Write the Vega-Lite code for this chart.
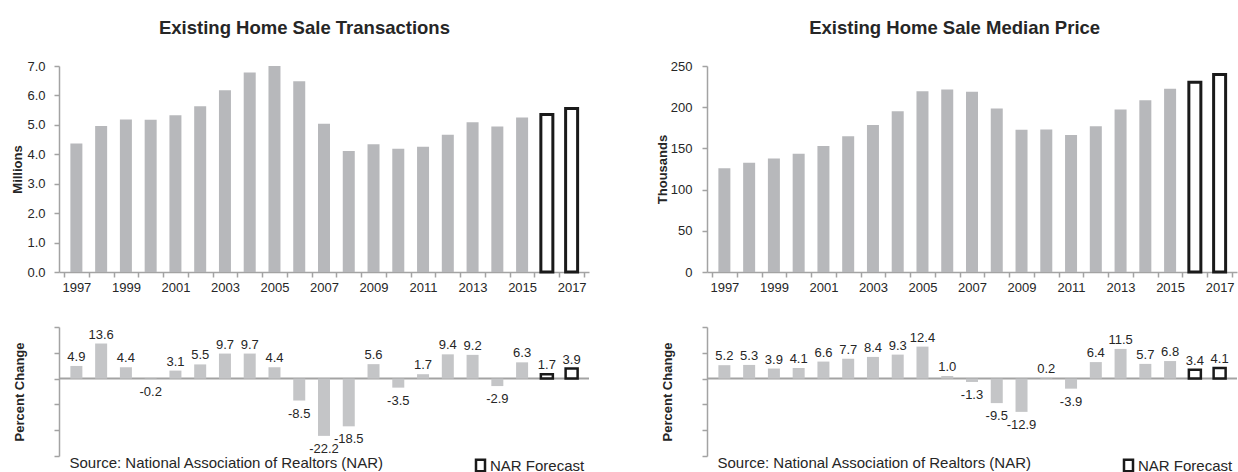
{
  "$schema": "https://vega.github.io/schema/vega-lite/v6.json",
  "padding": {"left": 11, "top": 18, "right": 0, "bottom": 0},
  "autosize": {"type": "pad"},
  "background": "white",
  "config": {
    "locale": {"number": {"decimal": ".", "thousands": ",", "grouping": [3], "currency": ["$", ""], "minus": "-"}},
    "view": {"stroke": null},
    "font": "Liberation Sans",
    "axis": {
      "domainColor": "#a3a3a3", "tickColor": "#a3a3a3", "domainWidth": 1.5, "tickWidth": 1.5,
      "labelColor": "#262626", "titleColor": "#262626", "labelFontSize": 13, "titleFontSize": 13,
      "titleFontWeight": "bold", "grid": false, "tickSize": 5
    },
    "title": {"fontSize": 18.5, "fontWeight": "bold", "color": "#262626", "frame": "bounds", "anchor": "middle"}
  },
  "datasets": {
    "sales": [
      {"year": 1997, "units": 4.37, "pct": 4.9, "kind": "Actual"},
      {"year": 1998, "units": 4.96, "pct": 13.6, "kind": "Actual"},
      {"year": 1999, "units": 5.18, "pct": 4.4, "kind": "Actual"},
      {"year": 2000, "units": 5.17, "pct": -0.2, "kind": "Actual"},
      {"year": 2001, "units": 5.33, "pct": 3.1, "kind": "Actual"},
      {"year": 2002, "units": 5.63, "pct": 5.5, "kind": "Actual"},
      {"year": 2003, "units": 6.18, "pct": 9.7, "kind": "Actual"},
      {"year": 2004, "units": 6.78, "pct": 9.7, "kind": "Actual"},
      {"year": 2005, "units": 7.0, "pct": 4.4, "kind": "Actual"},
      {"year": 2006, "units": 6.48, "pct": -8.5, "kind": "Actual"},
      {"year": 2007, "units": 5.04, "pct": -22.2, "kind": "Actual"},
      {"year": 2008, "units": 4.11, "pct": -18.5, "kind": "Actual"},
      {"year": 2009, "units": 4.34, "pct": 5.6, "kind": "Actual"},
      {"year": 2010, "units": 4.19, "pct": -3.5, "kind": "Actual"},
      {"year": 2011, "units": 4.26, "pct": 1.7, "kind": "Actual"},
      {"year": 2012, "units": 4.66, "pct": 9.4, "kind": "Actual"},
      {"year": 2013, "units": 5.09, "pct": 9.2, "kind": "Actual"},
      {"year": 2014, "units": 4.94, "pct": -2.9, "kind": "Actual"},
      {"year": 2015, "units": 5.25, "pct": 6.3, "kind": "Actual"},
      {"year": 2016, "units": 5.35, "pct": 1.7, "kind": "NAR Forecast"},
      {"year": 2017, "units": 5.56, "pct": 3.9, "kind": "NAR Forecast"}
    ],
    "price": [
      {"year": 1997, "price": 125.8, "pct": 5.2, "kind": "Actual"},
      {"year": 1998, "price": 132.5, "pct": 5.3, "kind": "Actual"},
      {"year": 1999, "price": 137.7, "pct": 3.9, "kind": "Actual"},
      {"year": 2000, "price": 143.5, "pct": 4.1, "kind": "Actual"},
      {"year": 2001, "price": 152.8, "pct": 6.6, "kind": "Actual"},
      {"year": 2002, "price": 164.6, "pct": 7.7, "kind": "Actual"},
      {"year": 2003, "price": 178.5, "pct": 8.4, "kind": "Actual"},
      {"year": 2004, "price": 195.1, "pct": 9.3, "kind": "Actual"},
      {"year": 2005, "price": 219.3, "pct": 12.4, "kind": "Actual"},
      {"year": 2006, "price": 221.5, "pct": 1.0, "kind": "Actual"},
      {"year": 2007, "price": 218.6, "pct": -1.3, "kind": "Actual"},
      {"year": 2008, "price": 198.3, "pct": -9.5, "kind": "Actual"},
      {"year": 2009, "price": 172.5, "pct": -12.9, "kind": "Actual"},
      {"year": 2010, "price": 172.9, "pct": 0.2, "kind": "Actual"},
      {"year": 2011, "price": 166.2, "pct": -3.9, "kind": "Actual"},
      {"year": 2012, "price": 176.8, "pct": 6.4, "kind": "Actual"},
      {"year": 2013, "price": 197.1, "pct": 11.5, "kind": "Actual"},
      {"year": 2014, "price": 208.3, "pct": 5.7, "kind": "Actual"},
      {"year": 2015, "price": 222.5, "pct": 6.8, "kind": "Actual"},
      {"year": 2016, "price": 230.3, "pct": 3.4, "kind": "NAR Forecast"},
      {"year": 2017, "price": 239.6, "pct": 4.1, "kind": "NAR Forecast"}
    ]
  },
  "spacing": 66,
  "resolve": {
    "scale": {"x": "independent", "y": "independent", "fill": "independent", "stroke": "independent"},
    "legend": {"fill": "independent", "stroke": "independent"}
  },
  "hconcat": [
    {
      "spacing": 32,
      "resolve": {
        "scale": {"x": "independent", "y": "independent", "fill": "independent", "stroke": "independent"},
        "legend": {"fill": "independent", "stroke": "independent"}
      },
      "vconcat": [
        {
          "width": 530, "height": 206,
          "title": {"text": "Existing Home Sale Transactions", "offset": 23, "dx": 4},
          "data": {"name": "sales"},
          "mark": {"type": "bar", "orient": "vertical", "size": 12, "strokeWidth": 3},
          "encoding": {
            "x": {"field": "year", "type": "quantitative",
              "scale": {"domain": [1996.5, 2017.5], "nice": false, "zero": false},
              "axis": {"title": null,
                "values": [1996.5, 1997, 1997.5, 1998.5, 1999, 1999.5, 2000.5, 2001, 2001.5, 2002.5, 2003, 2003.5, 2004.5, 2005, 2005.5, 2006.5, 2007, 2007.5, 2008.5, 2009, 2009.5, 2010.5, 2011, 2011.5, 2012.5, 2013, 2013.5, 2014.5, 2015, 2015.5, 2016.5, 2017, 2017.5],
                "labelExpr": "datum.value % 2 === 1 ? '' + datum.value : ''",
                "tickOpacity": {"condition": {"test": "datum.value % 1 === 0", "value": 0}, "value": 1},
                "labelOverlap": false, "labelFlush": false, "labelBound": false, "labelPadding": 4}},
            "y": {"field": "units", "type": "quantitative",
              "scale": {"domain": [0, 7], "nice": false},
              "axis": {"title": "Millions", "values": [0, 1, 2, 3, 4, 5, 6, 7], "format": ".1f", "labelPadding": 9, "titlePadding": 2}},
            "fill": {"field": "kind", "type": "nominal", "scale": {"domain": ["Actual", "NAR Forecast"], "range": ["#b7b8bb", "#ffffff"]}, "legend": null},
            "stroke": {"field": "kind", "type": "nominal", "scale": {"domain": ["Actual", "NAR Forecast"], "range": ["transparent", "#1a1a1a"]}, "legend": null}
          }
        },
        {
          "width": 530, "height": 129,
          "layer": [
            {
              "data": {"values": [{"line": "zero"}]},
              "mark": {"type": "rule", "color": "#a3a3a3", "strokeWidth": 2},
              "encoding": {"y": {"datum": 0, "type": "quantitative", "scale": {"domain": [-30, 20], "nice": false},
                "axis": {"title": "Percent Change", "values": [-30, -20, -10, 0, 10, 20], "labels": false, "titlePadding": 27}}}
            },
            {
              "data": {"name": "sales"},
              "mark": {"type": "bar", "orient": "vertical", "size": 12, "strokeWidth": 2.5},
              "encoding": {
                "x": {"field": "year", "type": "quantitative",
                  "scale": {"domain": [1996.5, 2017.5], "nice": false, "zero": false},
                  "axis": {"title": "Source: National Association of Realtors (NAR)", "domain": false, "ticks": false, "labels": false,
                    "titleX": 10, "titleY": 11, "titleAlign": "left", "titleBaseline": "alphabetic", "titleFontSize": 15, "titleFontWeight": "normal"}},
                "y": {"field": "pct", "type": "quantitative", "scale": {"domain": [-30, 20], "nice": false},
                  "axis": {"title": "Percent Change", "values": [-30, -20, -10, 0, 10, 20], "labels": false, "titlePadding": 27}},
                "fill": {"field": "kind", "type": "nominal", "scale": {"domain": ["Actual", "NAR Forecast"], "range": ["#c4c5c7", "#ffffff"]},
                  "legend": {"orient": "none", "legendX": 414, "legendY": 131, "title": null, "values": ["NAR Forecast"],
                    "symbolType": "M-0.75,-0.95L0.75,-0.95L0.75,0.95L-0.75,0.95Z", "symbolSize": 144, "symbolStrokeWidth": 2.5,
                    "labelFontSize": 15, "labelColor": "#262626", "labelOffset": 2, "padding": 0}},
                "stroke": {"field": "kind", "type": "nominal", "scale": {"domain": ["Actual", "NAR Forecast"], "range": ["transparent", "#1a1a1a"]},
                  "legend": {"orient": "none", "legendX": 414, "legendY": 131, "title": null, "values": ["NAR Forecast"],
                    "symbolType": "M-0.75,-0.95L0.75,-0.95L0.75,0.95L-0.75,0.95Z", "symbolSize": 144, "symbolStrokeWidth": 2.5,
                    "labelFontSize": 15, "labelColor": "#262626", "labelOffset": 2, "padding": 0}}
              }
            },
            {
              "data": {"name": "sales"},
              "transform": [{"filter": "datum.pct >= 0"}],
              "mark": {"type": "text", "baseline": "alphabetic", "dy": -5, "fontSize": 13, "color": "#262626"},
              "encoding": {
                "x": {"field": "year", "type": "quantitative", "scale": {"domain": [1996.5, 2017.5], "nice": false, "zero": false},
                  "axis": {"title": "Source: National Association of Realtors (NAR)", "domain": false, "ticks": false, "labels": false,
                    "titleX": 10, "titleY": 11, "titleAlign": "left", "titleBaseline": "alphabetic", "titleFontSize": 15, "titleFontWeight": "normal"}},
                "y": {"field": "pct", "type": "quantitative", "scale": {"domain": [-30, 20], "nice": false},
                  "axis": {"title": "Percent Change", "values": [-30, -20, -10, 0, 10, 20], "labels": false, "titlePadding": 27}},
                "text": {"field": "pct", "type": "quantitative", "format": ".1f"}
              }
            },
            {
              "data": {"name": "sales"},
              "transform": [{"filter": "datum.pct < 0"}],
              "mark": {"type": "text", "baseline": "top", "dy": 7, "fontSize": 13, "color": "#262626"},
              "encoding": {
                "x": {"field": "year", "type": "quantitative", "scale": {"domain": [1996.5, 2017.5], "nice": false, "zero": false},
                  "axis": {"title": "Source: National Association of Realtors (NAR)", "domain": false, "ticks": false, "labels": false,
                    "titleX": 10, "titleY": 11, "titleAlign": "left", "titleBaseline": "alphabetic", "titleFontSize": 15, "titleFontWeight": "normal"}},
                "y": {"field": "pct", "type": "quantitative", "scale": {"domain": [-30, 20], "nice": false},
                  "axis": {"title": "Percent Change", "values": [-30, -20, -10, 0, 10, 20], "labels": false, "titlePadding": 27}},
                "text": {"field": "pct", "type": "quantitative", "format": ".1f"}
              }
            }
          ]
        }
      ]
    },
    {
      "spacing": 32,
      "resolve": {
        "scale": {"x": "independent", "y": "independent", "fill": "independent", "stroke": "independent"},
        "legend": {"fill": "independent", "stroke": "independent"}
      },
      "vconcat": [
        {
          "width": 530, "height": 206,
          "title": {"text": "Existing Home Sale Median Price", "offset": 23, "dx": 8},
          "data": {"name": "price"},
          "mark": {"type": "bar", "orient": "vertical", "size": 12, "strokeWidth": 3},
          "encoding": {
            "x": {"field": "year", "type": "quantitative",
              "scale": {"domain": [1996.5, 2017.5], "nice": false, "zero": false},
              "axis": {"title": null,
                "values": [1996.5, 1997, 1997.5, 1998.5, 1999, 1999.5, 2000.5, 2001, 2001.5, 2002.5, 2003, 2003.5, 2004.5, 2005, 2005.5, 2006.5, 2007, 2007.5, 2008.5, 2009, 2009.5, 2010.5, 2011, 2011.5, 2012.5, 2013, 2013.5, 2014.5, 2015, 2015.5, 2016.5, 2017, 2017.5],
                "labelExpr": "datum.value % 2 === 1 ? '' + datum.value : ''",
                "tickOpacity": {"condition": {"test": "datum.value % 1 === 0", "value": 0}, "value": 1},
                "labelOverlap": false, "labelFlush": false, "labelBound": false, "labelPadding": 4}},
            "y": {"field": "price", "type": "quantitative",
              "scale": {"domain": [0, 250], "nice": false},
              "axis": {"title": "Thousands", "values": [0, 50, 100, 150, 200, 250], "format": "d", "labelPadding": 10, "titlePadding": 1}},
            "fill": {"field": "kind", "type": "nominal", "scale": {"domain": ["Actual", "NAR Forecast"], "range": ["#b7b8bb", "#ffffff"]}, "legend": null},
            "stroke": {"field": "kind", "type": "nominal", "scale": {"domain": ["Actual", "NAR Forecast"], "range": ["transparent", "#1a1a1a"]}, "legend": null}
          }
        },
        {
          "width": 530, "height": 129,
          "layer": [
            {
              "data": {"values": [{"line": "zero"}]},
              "mark": {"type": "rule", "color": "#a3a3a3", "strokeWidth": 2},
              "encoding": {"y": {"datum": 0, "type": "quantitative", "scale": {"domain": [-30, 20], "nice": false},
                "axis": {"title": "Percent Change", "values": [-30, -20, -10, 0, 10, 20], "labels": false, "titlePadding": 27}}}
            },
            {
              "data": {"name": "price"},
              "mark": {"type": "bar", "orient": "vertical", "size": 12, "strokeWidth": 2.5},
              "encoding": {
                "x": {"field": "year", "type": "quantitative",
                  "scale": {"domain": [1996.5, 2017.5], "nice": false, "zero": false},
                  "axis": {"title": "Source: National Association of Realtors (NAR)", "domain": false, "ticks": false, "labels": false,
                    "titleX": 10, "titleY": 11, "titleAlign": "left", "titleBaseline": "alphabetic", "titleFontSize": 15, "titleFontWeight": "normal"}},
                "y": {"field": "pct", "type": "quantitative", "scale": {"domain": [-30, 20], "nice": false},
                  "axis": {"title": "Percent Change", "values": [-30, -20, -10, 0, 10, 20], "labels": false, "titlePadding": 27}},
                "fill": {"field": "kind", "type": "nominal", "scale": {"domain": ["Actual", "NAR Forecast"], "range": ["#c4c5c7", "#ffffff"]},
                  "legend": {"orient": "none", "legendX": 414, "legendY": 131, "title": null, "values": ["NAR Forecast"],
                    "symbolType": "M-0.75,-0.95L0.75,-0.95L0.75,0.95L-0.75,0.95Z", "symbolSize": 144, "symbolStrokeWidth": 2.5,
                    "labelFontSize": 15, "labelColor": "#262626", "labelOffset": 2, "padding": 0}},
                "stroke": {"field": "kind", "type": "nominal", "scale": {"domain": ["Actual", "NAR Forecast"], "range": ["transparent", "#1a1a1a"]},
                  "legend": {"orient": "none", "legendX": 414, "legendY": 131, "title": null, "values": ["NAR Forecast"],
                    "symbolType": "M-0.75,-0.95L0.75,-0.95L0.75,0.95L-0.75,0.95Z", "symbolSize": 144, "symbolStrokeWidth": 2.5,
                    "labelFontSize": 15, "labelColor": "#262626", "labelOffset": 2, "padding": 0}}
              }
            },
            {
              "data": {"name": "price"},
              "transform": [{"filter": "datum.pct >= 0"}],
              "mark": {"type": "text", "baseline": "alphabetic", "dy": -5, "fontSize": 13, "color": "#262626"},
              "encoding": {
                "x": {"field": "year", "type": "quantitative", "scale": {"domain": [1996.5, 2017.5], "nice": false, "zero": false},
                  "axis": {"title": "Source: National Association of Realtors (NAR)", "domain": false, "ticks": false, "labels": false,
                    "titleX": 10, "titleY": 11, "titleAlign": "left", "titleBaseline": "alphabetic", "titleFontSize": 15, "titleFontWeight": "normal"}},
                "y": {"field": "pct", "type": "quantitative", "scale": {"domain": [-30, 20], "nice": false},
                  "axis": {"title": "Percent Change", "values": [-30, -20, -10, 0, 10, 20], "labels": false, "titlePadding": 27}},
                "text": {"field": "pct", "type": "quantitative", "format": ".1f"}
              }
            },
            {
              "data": {"name": "price"},
              "transform": [{"filter": "datum.pct < 0"}],
              "mark": {"type": "text", "baseline": "top", "dy": 7, "fontSize": 13, "color": "#262626"},
              "encoding": {
                "x": {"field": "year", "type": "quantitative", "scale": {"domain": [1996.5, 2017.5], "nice": false, "zero": false},
                  "axis": {"title": "Source: National Association of Realtors (NAR)", "domain": false, "ticks": false, "labels": false,
                    "titleX": 10, "titleY": 11, "titleAlign": "left", "titleBaseline": "alphabetic", "titleFontSize": 15, "titleFontWeight": "normal"}},
                "y": {"field": "pct", "type": "quantitative", "scale": {"domain": [-30, 20], "nice": false},
                  "axis": {"title": "Percent Change", "values": [-30, -20, -10, 0, 10, 20], "labels": false, "titlePadding": 27}},
                "text": {"field": "pct", "type": "quantitative", "format": ".1f"}
              }
            }
          ]
        }
      ]
    }
  ]
}
